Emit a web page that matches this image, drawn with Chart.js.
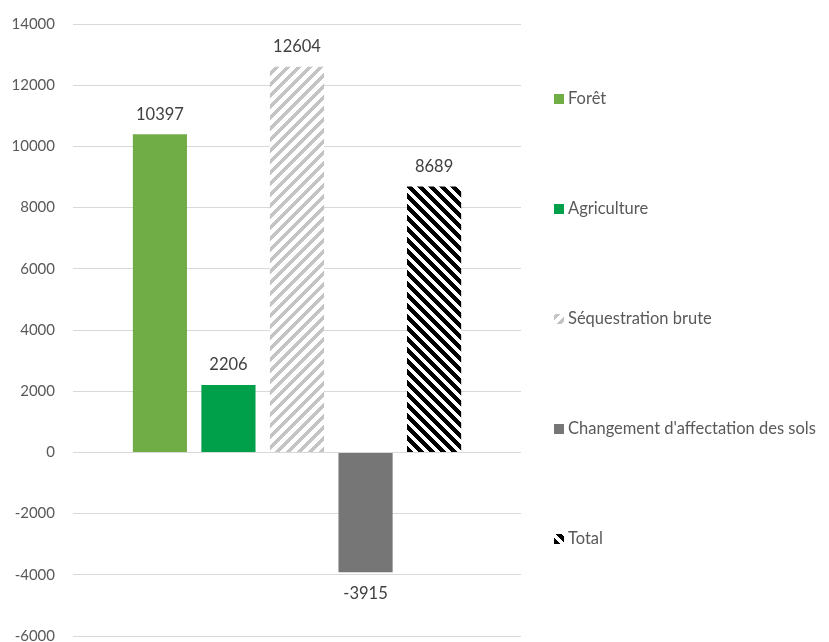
<!DOCTYPE html>
<html>
<head>
<meta charset="utf-8">
<script src="https://cdn.jsdelivr.net/npm/chart.js@4.4.1/dist/chart.umd.min.js"></script>
<style>
  html, body { margin: 0; padding: 0; background: #fff; overflow: hidden; }
  #wrap { width: 829px; height: 642px; position: relative; }
</style>
</head>
<body>
<div id="wrap"><canvas id="chart"></canvas></div>
<script>
// data
const categories = [''];
const seriesNames = ['Forêt', 'Agriculture', 'Séquestration brute', "Changement d'affectation des sols", 'Total'];
const foret = [10397];
const agriculture = [2206];
const sequestration = [12604];
const changement = [-3915];
const total = [8689];
const yTicks = [-6000, -4000, -2000, 0, 2000, 4000, 6000, 8000, 10000, 12000, 14000];

const FONT = 'Lato, "Open Sans", sans-serif';

// crisp diagonal stripes, pixel by pixel so the tile joins up cleanly
function hatch(color, bg, dir, w, size) {
    const c = document.createElement('canvas');
    c.width = c.height = size;
    const g = c.getContext('2d');
    g.fillStyle = bg; g.fillRect(0, 0, size, size);
    g.fillStyle = color;
    for (let y = 0; y < size; y++) {
        for (let x = 0; x < size; x++) {
            const d = dir === 'up' ? (x + y) % size : ((x - y) % size + size) % size;
            if (d < w) g.fillRect(x, y, 1, 1);
        }
    }
    return g.createPattern(c, 'repeat');
}

const fills = [
    '#70ad47',
    '#00a04b',
    hatch('#c4c4c4', '#ffffff', 'up', 5, 11),
    '#767676',
    hatch('#000000', '#ffffff', 'down', 6, 11)
];
const values = [foret, agriculture, sequestration, changement, total];

// value labels above / below bars
const valueLabels = {
    id: 'valueLabels',
    afterDatasetsDraw(chart) {
        const ctx = chart.ctx;
        ctx.save();
        ctx.font = '16.5px ' + FONT;
        ctx.fillStyle = '#404040';
        ctx.textAlign = 'center';
        ctx.textBaseline = 'middle';
        chart.data.datasets.forEach((ds, i) => {
            chart.getDatasetMeta(i).data.forEach((bar, j) => {
                const v = ds.data[j];
                ctx.fillText(String(v), bar.x, v >= 0 ? bar.y - 20 : bar.y + 21);
            });
        });
        ctx.restore();
    }
};

// legend on the right, spread down the height
const sideLegend = {
    id: 'sideLegend',
    afterDraw(chart, args, opts) {
        const ctx = chart.ctx;
        ctx.save();
        ctx.font = '16.5px ' + FONT;
        ctx.textBaseline = 'middle';
        chart.data.datasets.forEach((ds, i) => {
            const y = opts.top + i * opts.step;
            ctx.fillStyle = ds.backgroundColor;
            ctx.fillRect(opts.x, y - 5, 10, 10);
            ctx.fillStyle = '#595959';
            ctx.fillText(ds.label, opts.x + 14, y);
        });
        ctx.restore();
    }
};

new Chart(document.getElementById('chart'), {
    type: 'bar',
    data: {
        labels: categories,
        datasets: seriesNames.map((name, i) => ({
            label: name,
            data: values[i],
            backgroundColor: fills[i],
            borderWidth: 0,
            categoryPercentage: 0.765,
            barPercentage: 0.79
        }))
    },
    options: {
        responsive: true,
        maintainAspectRatio: false,
        animation: false,
        layout: { padding: { left: 11, right: 308, top: 24, bottom: 6 } },
        plugins: {
            legend: { display: false },
            tooltip: { enabled: false },
            sideLegend: { x: 554, top: 99, step: 110 }
        },
        scales: {
            x: { display: false },
            y: {
                min: -6000, max: 14000,
                afterBuildTicks: s => { s.ticks = yTicks.map(v => ({ value: v })); },
                afterFit: s => { s.width = 62; s.paddingTop = 0; s.paddingBottom = 0; },
                grid: { color: '#d9d9d9', drawTicks: false },
                border: { display: false },
                ticks: {
                    padding: 18, color: '#595959', font: { family: FONT, size: 15 },
                    callback: v => String(v)
                }
            }
        }
    },
    plugins: [valueLabels, sideLegend]
});
</script>
</body>
</html>
